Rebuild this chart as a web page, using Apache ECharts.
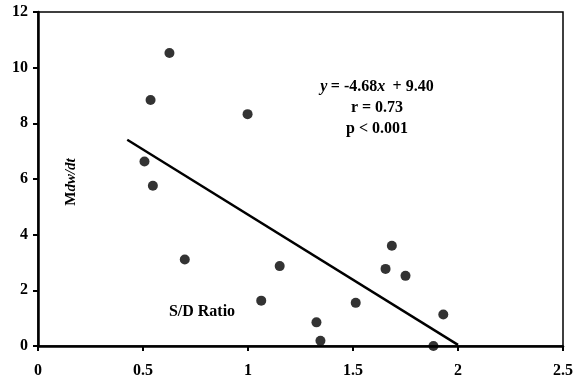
<!DOCTYPE html>
<html>
<head>
    <title>S/D ratio scatter</title>
    <script src="https://cdn.jsdelivr.net/npm/echarts@6/dist/echarts.min.js"></script>
</head>
<body style="margin:0">

<div id="chart" style="width: 577px;height:377px;"></div>

<script type="text/javascript">
    // S/D ratio vs Mdw/dt
    var sdRatio = [0.626, 0.536, 0.507, 0.547, 0.699, 1.063, 1.151, 0.998, 1.326, 1.345, 1.513, 1.655, 1.685, 1.750, 1.930, 1.883];
    var mdwdt   = [10.53, 8.84, 6.63, 5.76, 3.11, 1.63, 2.87, 8.33, 0.85, 0.19, 1.55, 2.77, 3.60, 2.52, 1.13, 0.00];
    // regression line end points
    var fitX = [0.425, 2.0];
    var fitY = [7.41, 0.04];
    var xTicks = [0, 0.5, 1, 1.5, 2, 2.5];
    var yTicks = [0, 2, 4, 6, 8, 10, 12];

    var font = '"Liberation Serif", "Times New Roman", serif';
    var points = [];
    for (var i = 0; i < sdRatio.length; i++) {
        points.push([sdRatio[i], mdwdt[i]]);
    }
    var fit = [[fitX[0], fitY[0]], [fitX[1], fitY[1]]];

    var chart = echarts.init(document.getElementById('chart'));
    chart.setOption({
        animation: false,
        grid: {
            left: 38, right: 14, top: 12, bottom: 31,
            outerBoundsMode: 'none',
            containLabel: false,
            show: true,
            borderColor: '#000',
            borderWidth: 1.5
        },
        xAxis: {
            type: 'value',
            min: xTicks[0], max: xTicks[xTicks.length - 1], interval: 0.5,
            axisLine: {lineStyle: {color: '#000', width: 2.5}},
            axisTick: {show: true, length: 5, lineStyle: {color: '#000', width: 2}},
            splitLine: {show: false},
            axisLabel: {
                color: '#000', fontFamily: font, fontWeight: 'bold', fontSize: 16, margin: 12,
                showMaxLabel: true, showMinLabel: true
            }
        },
        yAxis: {
            type: 'value',
            min: yTicks[0], max: yTicks[yTicks.length - 1], interval: 2,
            axisLine: {lineStyle: {color: '#000', width: 2.5}},
            axisTick: {show: true, length: 5, lineStyle: {color: '#000', width: 2}},
            splitLine: {show: false},
            axisLabel: {color: '#000', fontFamily: font, fontWeight: 'bold', fontSize: 16, margin: 10}
        },
        series: [{
            type: 'scatter',
            data: points,
            symbol: 'circle',
            symbolSize: 10,
            itemStyle: {color: '#000'}
        }, {
            type: 'line',
            data: fit,
            symbol: 'none',
            lineStyle: {color: '#000', width: 2.4}
        }],
        graphic: [{
            type: 'text', x: 377, y: 87,
            style: {
                rich: {
                    i: {fontFamily: font, fontStyle: 'italic', fontWeight: 'bold', fontSize: 16, fill: '#000'},
                    n: {fontFamily: font, fontWeight: 'bold', fontSize: 16, fill: '#000'}
                },
                text: '{i|y} {n|= -4.68}{i|x} {n| + 9.40}',
                align: 'center', verticalAlign: 'middle'
            }
        }, {
            type: 'text', x: 377, y: 108,
            style: {text: 'r = 0.73', fontFamily: font, fontWeight: 'bold', fontSize: 16, fill: '#000',
                    align: 'center', verticalAlign: 'middle'}
        }, {
            type: 'text', x: 377, y: 129,
            style: {text: 'p < 0.001', fontFamily: font, fontWeight: 'bold', fontSize: 16, fill: '#000',
                    align: 'center', verticalAlign: 'middle'}
        }, {
            type: 'text', x: 202, y: 312,
            style: {text: 'S/D Ratio', fontFamily: font, fontWeight: 'bold', fontSize: 16, fill: '#000',
                    align: 'center', verticalAlign: 'middle'}
        }, {
            type: 'text', x: 71, y: 182, rotation: Math.PI / 2,
            style: {
                rich: {
                    m: {fontFamily: font, fontWeight: 'bold', fontSize: 15, fill: '#000'},
                    d: {fontFamily: font, fontWeight: 'bold', fontStyle: 'italic', fontSize: 15, fill: '#000'}
                },
                text: '{m|M}{d|dw/dt}',
                align: 'center', verticalAlign: 'middle'
            }
        }]
    });
</script>
</body>
</html>
